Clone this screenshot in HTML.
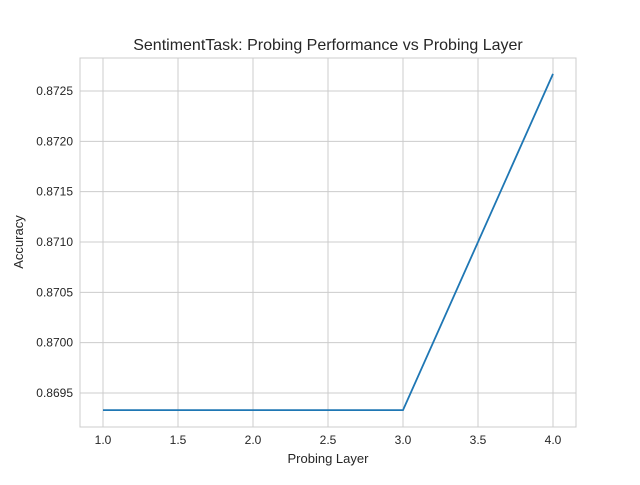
<!DOCTYPE html>
<html><head><meta charset="utf-8"><style>
body{margin:0;background:#fff;}
svg text{font-family:"Liberation Sans",sans-serif;fill:#262626;}
</style></head><body>
<svg width="640" height="480" id="c">
<rect width="640" height="480" fill="#fff"/>
<g id="grid"></g>
<rect x="80" y="58" width="496" height="369" fill="none" stroke="#cccccc" stroke-width="1"/>
<g id="ticks"></g>
<polyline id="line" fill="none" stroke="#1f77b4" stroke-width="1.8"/>
<text x="328" y="50" font-size="16" text-anchor="middle">SentimentTask: Probing Performance vs Probing Layer</text>
<text x="328" y="463" font-size="13" text-anchor="middle">Probing Layer</text>
<text transform="translate(23,242) rotate(-90)" font-size="13" text-anchor="middle">Accuracy</text>
</svg>
<script>
const layers=[1,2,3,4];
const accuracy=[0.86933,0.86933,0.86933,0.87267];
const xTicks=[1.0,1.5,2.0,2.5,3.0,3.5,4.0];
const yTicks=[0.8695,0.8700,0.8705,0.8710,0.8715,0.8720,0.8725];
const NS="http://www.w3.org/2000/svg";
function xs(v){return 103+(v-1)*150;}
function ys(v){return 393-(v-0.8695)/0.0005*50.33;}
const g=document.getElementById('grid'),t=document.getElementById('ticks');
xTicks.forEach(v=>{
 const l=document.createElementNS(NS,'line');
 
 
 l.setAttribute('x1',xs(v));l.setAttribute('x2',xs(v));l.setAttribute('y1',58);l.setAttribute('y2',427);
 l.setAttribute('stroke','#cccccc');g.appendChild(l);
 const tx=document.createElementNS(NS,'text');
 
 
 tx.setAttribute('x',xs(v));tx.setAttribute('y',444);tx.setAttribute('font-size','12');tx.setAttribute('text-anchor','middle');
 tx.textContent=v.toFixed(1);t.appendChild(tx);
});
yTicks.forEach(v=>{
 const l=document.createElementNS(NS,'line');
 
 
 l.setAttribute('x1',80);l.setAttribute('x2',576);l.setAttribute('y1',ys(v));l.setAttribute('y2',ys(v));
 l.setAttribute('stroke','#cccccc');g.appendChild(l);
 const tx=document.createElementNS(NS,'text');
 
 
 tx.setAttribute('x',73);tx.setAttribute('y',ys(v)+4);tx.setAttribute('font-size','12');tx.setAttribute('text-anchor','end');
 tx.textContent=v.toFixed(4);t.appendChild(tx);
});
document.getElementById('line').setAttribute('points',layers.map((x,i)=>xs(x)+','+ys(accuracy[i])).join(' '));
</script>
</body></html>
